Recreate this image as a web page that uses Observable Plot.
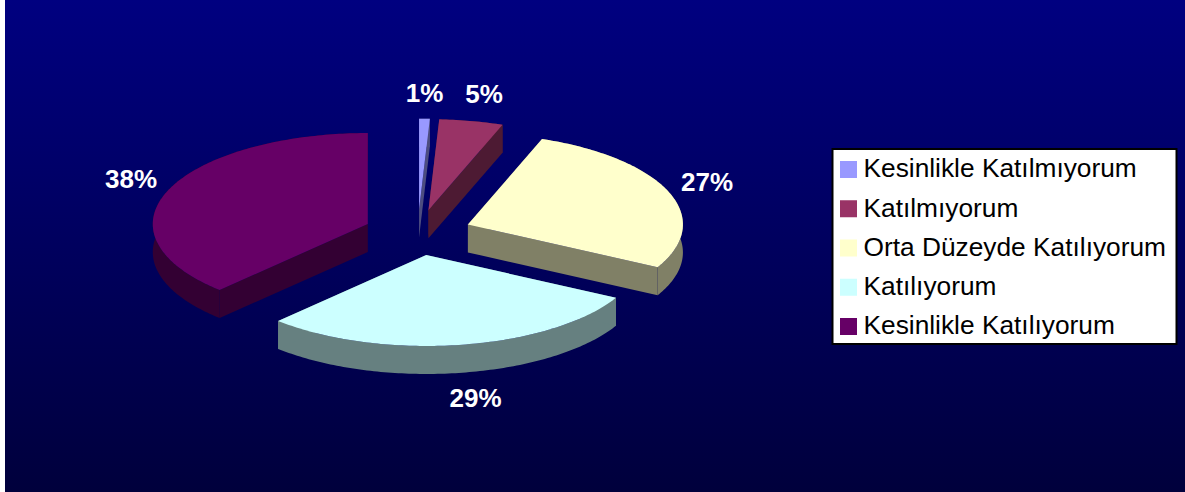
<!DOCTYPE html>
<html>
<head>
<meta charset="utf-8">
<style>html,body{margin:0;padding:0;background:#fff}svg{display:block}</style>
<script src="https://cdn.jsdelivr.net/npm/d3@7"></script>
<script src="https://cdn.jsdelivr.net/npm/@observablehq/plot@0.6"></script>
</head>
<body>
<div id="chart"></div>
<script>
const categories = ["Kesinlikle Katılmıyorum", "Katılmıyorum", "Orta Düzeyde Katılıyorum", "Katılıyorum", "Kesinlikle Katılıyorum"];
const shares = [0.8, 4.8, 27.2, 29.3, 37.9];
const percentLabels = ["1%", "5%", "27%", "29%", "38%"];
const topColors = ["#9999ff", "#993366", "#ffffcc", "#ccffff", "#660066"];
const sideColors = ["#4d4d80", "#4d1a33", "#808066", "#668080", "#330033"];

// layout of the tilted pie, in pixels
const pie3d = {cx: 417.2, cy: 232, rx: 215, ry: 91, depth: 28, explode: 0.25};
const labelAt = [[424, 93], [483.5, 94], [706.5, 182], [475, 398], [130.5, 179]];
const legendBox = {x1: 832.5, x2: 1176.5, y1: 149, y2: 344};
const legendRow = {swatchX: 840, swatchSize: 17, textX: 863, swatchTop: 161, textMid: 168.5, step: 39.25};

const arcs = d3.pie().sort(null).value(d => d)(shares);
const polys = [];
const push = (id, fill, pts) => pts.forEach(([x, y]) => polys.push({id, fill, x, y}));

// painter's order, back to front
[0, 1, 4, 2, 3].forEach(i => {
  const a = arcs[i], mid = (a.startAngle + a.endAngle) / 2;
  const ox = pie3d.cx + pie3d.explode * pie3d.rx * Math.sin(mid);
  const oy = pie3d.cy - pie3d.explode * pie3d.ry * Math.cos(mid);
  const n = Math.max(4, Math.ceil((a.endAngle - a.startAngle) * 60));
  const rim = d3.range(n + 1).map(k => {
    const t = a.startAngle + (a.endAngle - a.startAngle) * k / n;
    return [ox + pie3d.rx * Math.sin(t), oy - pie3d.ry * Math.cos(t)];
  });
  const down = ([x, y]) => [x, y + pie3d.depth];
  const first = rim[0], last = rim[n], apex = [ox, oy];
  push(`r${i}`, sideColors[i], [...rim, ...rim.map(down).reverse()]);
  push(`a${i}`, sideColors[i], [apex, first, down(first), down(apex)]);
  push(`b${i}`, sideColors[i], [apex, last, down(last), down(apex)]);
  push(`t${i}`, topColors[i], [apex, ...rim]);
});

const labels = percentLabels.map((text, i) => ({text, x: labelAt[i][0], y: labelAt[i][1]}));
const rows = categories.map((name, i) => ({
  name, fill: topColors[i],
  x1: legendRow.swatchX, x2: legendRow.swatchX + legendRow.swatchSize,
  y1: legendRow.swatchTop + i * legendRow.step,
  y2: legendRow.swatchTop + i * legendRow.step + legendRow.swatchSize,
  tx: legendRow.textX, ty: legendRow.textMid + i * legendRow.step
}));

const chart = Plot.plot({
  width: 1185, height: 492,
  margin: 0,
  x: {type: "identity", axis: null},
  y: {type: "identity", axis: null},
  style: {
    background: "linear-gradient(#000080, #00003c) 5px 0 / 1180px 492px no-repeat",
    fontFamily: "'Liberation Sans', Arial, sans-serif"
  },
  marks: [
    Plot.line(polys, {x: "x", y: "y", z: "id", fill: d => d.fill, stroke: null, curve: "linear"}),
    Plot.text(labels, {x: "x", y: "y", text: "text", fill: "#fff", fontSize: 26, fontWeight: "bold"}),
    Plot.rect([legendBox], {x1: "x1", x2: "x2", y1: "y1", y2: "y2", fill: "#fff", stroke: "#000", strokeWidth: 2}),
    Plot.rect(rows, {x1: "x1", x2: "x2", y1: "y1", y2: "y2", fill: "fill", inset: 0}),
    Plot.text(rows, {x: "tx", y: "ty", text: "name", fill: "#000", fontSize: 26.3, textAnchor: "start"})
  ]
});
document.getElementById("chart").append(chart);
</script>
</body>
</html>
